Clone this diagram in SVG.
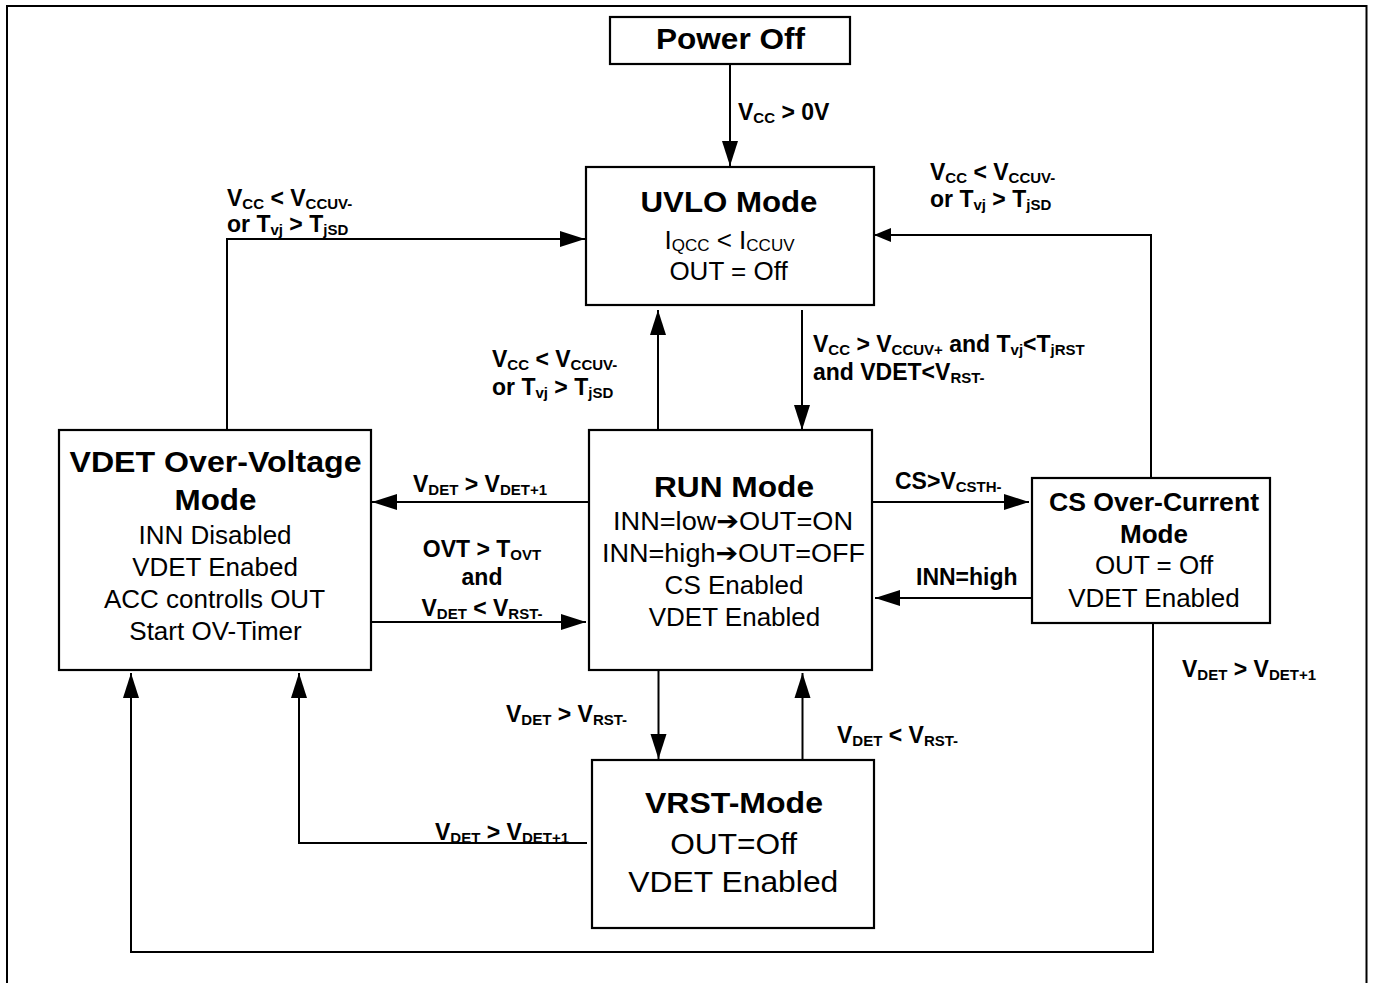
<svg xmlns="http://www.w3.org/2000/svg" width="1373" height="983" viewBox="0 0 1373 983">
<style>
.box{fill:#fff;stroke:#000;stroke-width:2.2}
.t{font-family:"Liberation Sans",Arial,"DejaVu Sans",sans-serif;fill:#000}
.title{font-weight:bold;font-size:29px;text-anchor:middle}
.ctitle{font-weight:bold;font-size:25px;text-anchor:middle}
.body{font-size:26px;text-anchor:middle}
.big{font-size:29px;text-anchor:middle}
.lbl{font-family:"Liberation Sans",Arial,sans-serif;font-weight:bold;font-size:23px;fill:#000}
.mid{text-anchor:middle}
.s{font-size:15px}
.bs{font-size:17px}
.c{fill:none;stroke:#000;stroke-width:2;marker-end:url(#ah)}
.cs{fill:none;stroke:#000;stroke-width:2;marker-end:url(#ahs)}
</style>
<defs>
<marker id="ah" markerUnits="userSpaceOnUse" markerWidth="26" markerHeight="16" refX="25" refY="8" orient="auto" overflow="visible">
<path d="M0,0 L25,8 L0,16 z" fill="#000"/>
</marker>
<marker id="ahs" markerUnits="userSpaceOnUse" markerWidth="18" markerHeight="14" refX="17" refY="7" orient="auto" overflow="visible">
<path d="M0,0 L17,7 L0,14 z" fill="#000"/>
</marker>
</defs>
<rect x="0" y="0" width="1373" height="983" fill="#fff"/>
<rect x="7" y="6" width="1359.5" height="1000" fill="none" stroke="#000" stroke-width="2"/>

<g id="connectors">
<g id="c-poweroff-uvlo">
<path class="c" d="M730,64 V166"/>
<text class="lbl" x="738" y="120">V<tspan class="s" dy="3">CC</tspan><tspan dy="-3"> &gt; 0V</tspan></text>
</g>
<g id="c-uvlo-run">
<path class="c" d="M802,310 V430"/>
<text class="lbl" x="813" y="352">V<tspan class="s" dy="3">CC</tspan><tspan dy="-3"> &gt; V</tspan><tspan class="s" dy="3">CCUV+</tspan><tspan dy="-3"> and T</tspan><tspan class="s" dy="3">vj</tspan><tspan dy="-3">&lt;T</tspan><tspan class="s" dy="3">jRST</tspan></text>
<text class="lbl" x="813" y="380">and VDET&lt;V<tspan class="s" dy="3">RST-</tspan></text>
</g>
<g id="c-run-uvlo">
<path class="c" d="M658,430 V310"/>
<text class="lbl" x="492" y="367">V<tspan class="s" dy="3">CC</tspan><tspan dy="-3"> &lt; V</tspan><tspan class="s" dy="3">CCUV-</tspan></text>
<text class="lbl" x="492" y="395">or T<tspan class="s" dy="3">vj</tspan><tspan dy="-3"> &gt; T</tspan><tspan class="s" dy="3">jSD</tspan></text>
</g>
<g id="c-vdet-uvlo">
<path class="c" d="M227,430 V239 H585"/>
<text class="lbl" x="227" y="206">V<tspan class="s" dy="3">CC</tspan><tspan dy="-3"> &lt; V</tspan><tspan class="s" dy="3">CCUV-</tspan></text>
<text class="lbl" x="227" y="232">or T<tspan class="s" dy="3">vj</tspan><tspan dy="-3"> &gt; T</tspan><tspan class="s" dy="3">jSD</tspan></text>
</g>
<g id="c-cs-uvlo">
<path class="cs" d="M1151,478 V235 H874"/>
<text class="lbl" x="930" y="180">V<tspan class="s" dy="3">CC</tspan><tspan dy="-3"> &lt; V</tspan><tspan class="s" dy="3">CCUV-</tspan></text>
<text class="lbl" x="930" y="207">or T<tspan class="s" dy="3">vj</tspan><tspan dy="-3"> &gt; T</tspan><tspan class="s" dy="3">jSD</tspan></text>
</g>
<g id="c-run-vdet">
<path class="c" d="M589,502 H372"/>
<text class="lbl" x="413" y="492">V<tspan class="s" dy="3">DET</tspan><tspan dy="-3"> &gt; V</tspan><tspan class="s" dy="3">DET+1</tspan></text>
</g>
<g id="c-vdet-run">
<path class="c" d="M372,622 H586"/>
<text class="lbl mid" x="482" y="557">OVT &gt; T<tspan class="s" dy="3">OVT</tspan></text>
<text class="lbl mid" x="482" y="585">and</text>
<text class="lbl mid" x="482" y="616">V<tspan class="s" dy="3">DET</tspan><tspan dy="-3"> &lt; V</tspan><tspan class="s" dy="3">RST-</tspan></text>
</g>
<g id="c-run-cs">
<path class="c" d="M872,502 H1029"/>
<text class="lbl" x="895" y="489">CS&gt;V<tspan class="s" dy="3">CSTH-</tspan></text>
</g>
<g id="c-cs-run">
<path class="c" d="M1032,598 H875"/>
<text class="lbl" x="916" y="585">INN=high</text>
</g>
<g id="c-run-vrst">
<path class="c" d="M658.5,670 V759"/>
<text class="lbl" x="506" y="722">V<tspan class="s" dy="3">DET</tspan><tspan dy="-3"> &gt; V</tspan><tspan class="s" dy="3">RST-</tspan></text>
</g>
<g id="c-vrst-run">
<path class="c" d="M802.5,760 V673"/>
<text class="lbl" x="837" y="743">V<tspan class="s" dy="3">DET</tspan><tspan dy="-3"> &lt; V</tspan><tspan class="s" dy="3">RST-</tspan></text>
</g>
<g id="c-vrst-vdet">
<path class="c" d="M587,843 H299 V673"/>
<text class="lbl" x="435" y="840">V<tspan class="s" dy="3">DET</tspan><tspan dy="-3"> &gt; V</tspan><tspan class="s" dy="3">DET+1</tspan></text>
</g>
<g id="c-cs-vdet">
<path class="c" d="M1153,623 V952 H131 V673"/>
<text class="lbl" x="1182" y="677">V<tspan class="s" dy="3">DET</tspan><tspan dy="-3"> &gt; V</tspan><tspan class="s" dy="3">DET+1</tspan></text>
</g>
</g>

<g id="node-poweroff">
<rect class="box" x="610" y="17" width="240" height="47"/>
<text class="t title" x="730.5" y="49" textLength="149" lengthAdjust="spacingAndGlyphs">Power Off</text>
</g>

<g id="node-uvlo">
<rect class="box" x="586" y="167" width="288" height="138"/>
<text class="t title" x="729" y="212" textLength="177" lengthAdjust="spacingAndGlyphs">UVLO Mode</text>
<text class="t body" x="729.5" y="249">I<tspan class="bs" dy="2">QCC</tspan><tspan dy="-2"> &lt; I</tspan><tspan class="bs" dy="2">CCUV</tspan></text>
<text class="t body" x="728.5" y="280">OUT = Off</text>
</g>

<g id="node-run">
<rect class="box" x="589" y="430" width="283" height="240"/>
<text class="t title" x="734" y="497" textLength="160" lengthAdjust="spacingAndGlyphs">RUN Mode</text>
<text class="t body" x="733" y="530" textLength="240" lengthAdjust="spacingAndGlyphs">INN=low➔OUT=ON</text>
<text class="t body" x="733.5" y="562" textLength="263" lengthAdjust="spacingAndGlyphs">INN=high➔OUT=OFF</text>
<text class="t body" x="734" y="594">CS Enabled</text>
<text class="t body" x="734.5" y="626">VDET Enabled</text>
</g>

<g id="node-vdet">
<rect class="box" x="59" y="430" width="312" height="240"/>
<text class="t title" x="215.5" y="472" textLength="292" lengthAdjust="spacingAndGlyphs">VDET Over-Voltage</text>
<text class="t title" x="215.5" y="510" textLength="82" lengthAdjust="spacingAndGlyphs">Mode</text>
<text class="t body" x="215" y="544">INN Disabled</text>
<text class="t body" x="215" y="576">VDET Enabed</text>
<text class="t body" x="214.5" y="608">ACC controlls OUT</text>
<text class="t body" x="215.5" y="640">Start OV-Timer</text>
</g>

<g id="node-cs">
<rect class="box" x="1032" y="478" width="238" height="145"/>
<text class="t ctitle" x="1154" y="511" textLength="210" lengthAdjust="spacingAndGlyphs">CS Over-Current</text>
<text class="t ctitle" x="1154" y="543" textLength="68" lengthAdjust="spacingAndGlyphs">Mode</text>
<text class="t body" x="1154" y="574">OUT = Off</text>
<text class="t body" x="1154" y="607">VDET Enabled</text>
</g>

<g id="node-vrst">
<rect class="box" x="592" y="760" width="282" height="168"/>
<text class="t title" x="734" y="813" textLength="178" lengthAdjust="spacingAndGlyphs">VRST-Mode</text>
<text class="t big" x="733.7" y="854" textLength="127" lengthAdjust="spacingAndGlyphs">OUT=Off</text>
<text class="t big" x="733.3" y="892" textLength="210" lengthAdjust="spacingAndGlyphs">VDET Enabled</text>
</g>
</svg>
